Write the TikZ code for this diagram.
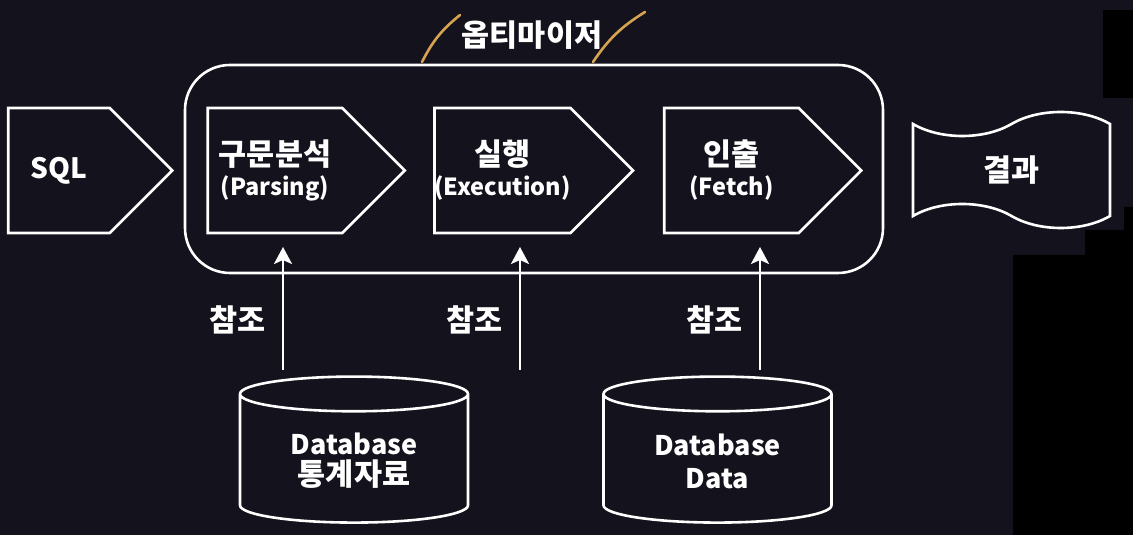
\documentclass[tikz,border=0pt]{standalone}
\usepackage{fontspec}
\setmainfont{Noto Sans CJK KR}
\usepackage{tikz}
\usetikzlibrary{positioning,shapes.symbols,shapes.geometric,arrows.meta}

\definecolor{bgdark}{RGB}{20,18,28}
\definecolor{slashgold}{RGB}{214,163,80}
\newcommand{\hangulsize}{\fontsize{30.5}{33}\selectfont}

\begin{document}
\begin{tikzpicture}[x=1pt,y=1pt,node distance=228pt,on grid,
    every node/.style={text=white},
    stage/.style={signal,signal to=east,draw=white,line width=2.6pt,inner xsep=0pt,
        minimum width=197pt,minimum height=125pt,align=center,
        font=\fontsize{23.5}{30}\selectfont\bfseries},
    db/.style={cylinder,shape border rotate=90,aspect=0.26,draw=white,line width=2.6pt,
        minimum width=228pt,minimum height=146pt,align=center,
        font=\fontsize{27}{31}\selectfont\bfseries},
    reflabel/.style={pos=0.41,left=16pt,inner sep=0pt,font=\hangulsize\bfseries},
    refarrow/.style={white,line width=2.6pt,-{Stealth[length=17pt,width=18pt,inset=4pt,fill=white]}}]
   \useasboundingbox[fill=bgdark] (0,0) rectangle (1133,535);
   % black patches at the right edge
   \fill[black] (1103,525) rectangle (1133,437);
   \fill[black] (1133,328) -- (1124,328) -- (1124,305) -- (1085,305)
        -- (1085,280) -- (1013,280) -- (1013,0) -- (1133,0) -- cycle;

   % optimizer frame
   \node[draw=white,line width=2.6pt,rounded corners=45pt,
         minimum width=698pt,minimum height=208pt] (opt) at (534,366) {};
   \node[font=\hangulsize\bfseries] (opt_label) at (532,500) {옵티마이저};
   \draw[slashgold,line width=2.6pt,line cap=round] (422,473) to[bend left=12] (460,520);
   \draw[slashgold,line width=2.6pt,line cap=round] (593,473) to[bend left=12] (645,523);

   % stages
   \node[stage] (p_parse) at (275,364.5) {{\hangulsize 구문분석}\\(Parsing)};
   \node[stage] (p_exec)  [right=227.5pt of p_parse] {{\hangulsize 실행}\\(Execution)};
   \node[stage] (p_fetch) [right=229pt of p_exec] {{\hangulsize 인출}\\(Fetch)};
   \node[stage,minimum width=164pt,font=\fontsize{28}{30}\selectfont\bfseries] (p_sql) [left=216pt of p_parse] {SQL};
   \node[tape,draw=white,line width=2.6pt,tape bend height=24pt,tape bend bottom=out and in,
         minimum width=197pt,minimum height=116pt,
         font=\hangulsize\bfseries] (result) at (1011.5,365) {결과};

   % databases
   \node[db] (db_stat) at (354,74) {Database\\{\hangulsize 통계자료}};
   \node[db] (db_data) [right=363.5pt of db_stat] {Database\\[2pt]Data};

   \coordinate (r1_from) at (283,165);
   \coordinate (r1_to)   at (283,288);
   \coordinate (r2_from) at (520,165);
   \coordinate (r2_to)   at (520,288);
   \coordinate (r3_from) at (760,165);
   \coordinate (r3_to)   at (760,288);

   \path[refarrow]
    (r1_from) edge node[reflabel] {참조} (r1_to)
    (r2_from) edge node[reflabel] {참조} (r2_to)
    (r3_from) edge node[reflabel] {참조} (r3_to);
\end{tikzpicture}
\end{document}
